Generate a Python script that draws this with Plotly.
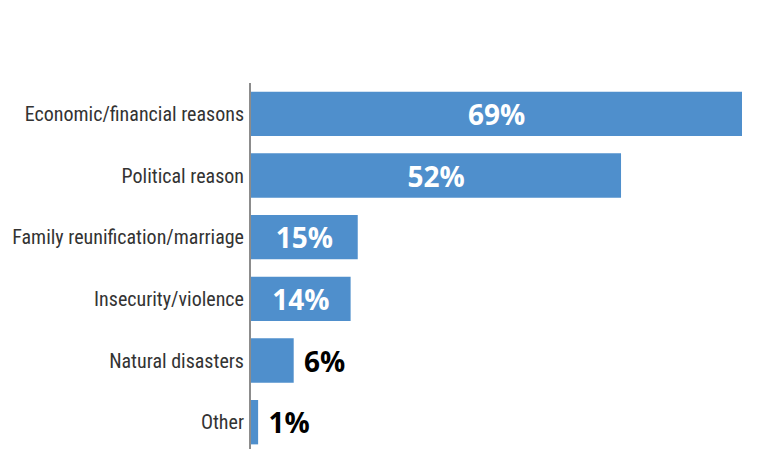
import plotly.graph_objects as go

reasons = ["Economic/financial reasons", "Political reason", "Family reunification/marriage",
           "Insecurity/violence", "Natural disasters", "Other"]
shares = [69, 52, 15, 14, 6, 1]
# big bars get the label inside, small ones outside
positions = ["inside", "inside", "inside", "inside", "outside", "outside"]
labels = [(" " if p == "outside" else "") + f"{v}%" for v, p in zip(shares, positions)]

label_font = "Roboto Condensed, Liberation Sans Narrow, DejaVu Sans Condensed, Roboto, sans-serif"
value_font = "Open Sans, Noto Sans, sans-serif"

fig = go.Figure(go.Bar(
    x=shares, y=reasons, orientation="h",
    marker=dict(color="#4f8fcc", line=dict(width=0)),
    text=labels, textposition=positions,
    insidetextanchor="middle",
    insidetextfont=dict(family=value_font, size=28, color="white", weight="bold"),
    outsidetextfont=dict(family=value_font, size=28, color="black", weight="bold"),
    cliponaxis=False,
))

# page body has an 8px margin, so offsets are 8px less than in the picture
fig.update_layout(
    width=774, height=449,
    margin=dict(l=243, r=40, t=75, b=4),
    paper_bgcolor="white", plot_bgcolor="white",
    bargap=0.28, showlegend=False,
    xaxis=dict(range=[0, 69], visible=False, automargin=False),
    yaxis=dict(range=[5.5, -0.5], showgrid=False, zeroline=False, automargin=False,
               showline=True, linecolor="#8c8c8c", linewidth=2,
               ticks="", ticklabelstandoff=1,
               tickfont=dict(family=label_font, size=20, color="#333333")),
)

fig.write_html("out.html")
